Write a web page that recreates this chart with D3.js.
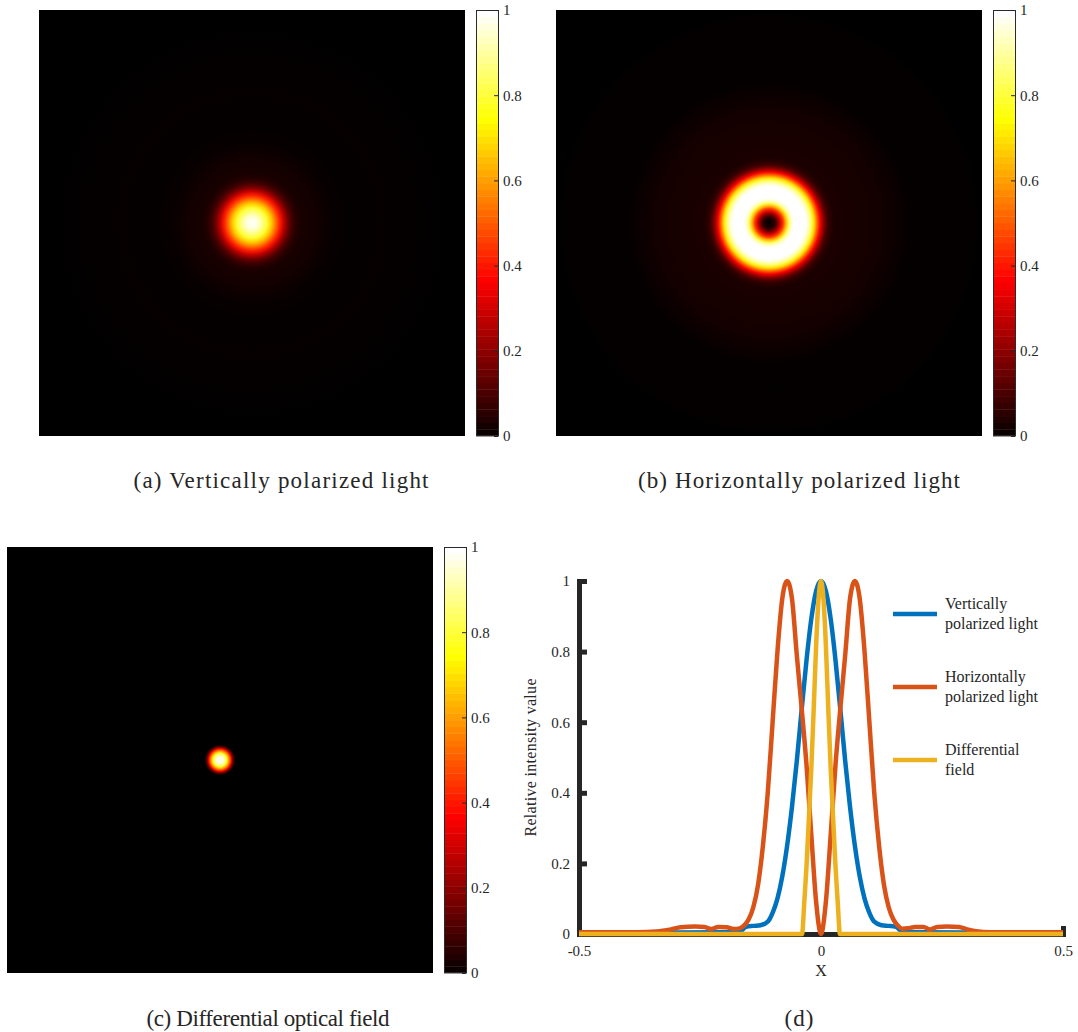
<!DOCTYPE html>
<meta charset="utf-8">
<title>Polarized light intensity</title>
<script src="https://cdn.jsdelivr.net/npm/d3@7"></script>
<style>
  body { margin: 0; background: #fff; }
  text { font-family: "Liberation Serif", "Times New Roman", serif; fill: #262626; }
</style>
<body>
<div id="fig"></div>
<script>

// radial profiles of the three intensity maps (radius as a fraction of map width)
var radiusA    = [0, 0.012, 0.023, 0.035, 0.045, 0.055, 0.065, 0.075, 0.085, 0.095, 0.106, 0.117, 0.141, 0.157, 0.188, 0.235, 0.305, 0.352, 0.411, 0.5]
var intensityA = [1, 0.97, 0.90, 0.80, 0.68, 0.55, 0.42, 0.28, 0.16, 0.09, 0.05, 0.035, 0.03, 0.025, 0.012, 0.006, 0.009, 0.007, 0.003, 0]

var radiusB    = [0, 0.012, 0.019, 0.026, 0.033, 0.040, 0.047, 0.054, 0.061, 0.085, 0.092, 0.099, 0.106, 0.113, 0.120, 0.127, 0.134, 0.141, 0.153, 0.200, 0.260, 0.300, 0.330, 0.387, 0.446, 0.481, 0.5]
var intensityB = [0, 0.05, 0.15, 0.30, 0.45, 0.65, 0.85, 0.97, 1, 1, 0.95, 0.85, 0.70, 0.52, 0.36, 0.22, 0.12, 0.07, 0.04, 0.035, 0.03, 0.018, 0.008, 0.004, 0.007, 0.004, 0]

var radiusC    = [0, 0.007, 0.012, 0.016, 0.021, 0.026, 0.029, 0.033, 0.036, 0.5]
var intensityC = [1, 0.97, 0.90, 0.78, 0.60, 0.40, 0.22, 0.08, 0, 0]

// line profiles of panel (d)
var xVert = [-0.5, -0.4, -0.3, -0.2, -0.18, -0.165, -0.155, -0.14, -0.125, -0.11, -0.1, -0.09, -0.08, -0.07, -0.06, -0.05, -0.04, -0.03, -0.02, -0.01, 0,
             0.01, 0.02, 0.03, 0.04, 0.05, 0.06, 0.07, 0.08, 0.09, 0.1, 0.11, 0.125, 0.14, 0.155, 0.165, 0.18, 0.2, 0.3, 0.4, 0.5]
var yVert = [0.003, 0.003, 0.004, 0.005, 0.006, 0.01, 0.02, 0.023, 0.025, 0.035, 0.06, 0.1, 0.163, 0.25, 0.36, 0.49, 0.635, 0.775, 0.893, 0.972, 1,
             0.972, 0.893, 0.775, 0.635, 0.49, 0.36, 0.25, 0.163, 0.1, 0.06, 0.035, 0.025, 0.023, 0.02, 0.01, 0.006, 0.005, 0.004, 0.003, 0.003]

var xHoriz = [-0.5, -0.38, -0.34, -0.31, -0.29, -0.26, -0.24, -0.228, -0.212, -0.195, -0.18, -0.168, -0.158, -0.15, -0.14, -0.13, -0.12, -0.11, -0.1, -0.09, -0.08, -0.07, -0.06, -0.05, -0.04, -0.03, -0.02, -0.01, 0,
              0.01, 0.02, 0.03, 0.04, 0.05, 0.06, 0.07, 0.08, 0.09, 0.1, 0.11, 0.12, 0.13, 0.14, 0.15, 0.158, 0.168, 0.18, 0.195, 0.212, 0.225, 0.24, 0.26, 0.285, 0.3, 0.32, 0.35, 0.5]
var yHoriz = [0.005, 0.005, 0.007, 0.013, 0.019, 0.021, 0.02, 0.014, 0.02, 0.019, 0.014, 0.016, 0.025, 0.04, 0.075, 0.14, 0.25, 0.4, 0.6, 0.8, 0.95, 1, 0.95, 0.79, 0.64, 0.48, 0.28, 0.09, 0,
              0.09, 0.28, 0.48, 0.64, 0.79, 0.95, 1, 0.95, 0.8, 0.6, 0.4, 0.25, 0.14, 0.075, 0.04, 0.025, 0.015, 0.016, 0.02, 0.02, 0.013, 0.02, 0.021, 0.02, 0.014, 0.008, 0.005, 0.005]

var xDiff = [-0.5, -0.039, -0.037, -0.035, -0.03, -0.025, -0.02, -0.015, -0.01, -0.005, 0, 0.005, 0.01, 0.015, 0.02, 0.025, 0.03, 0.035, 0.037, 0.039, 0.5]
var yDiff = [0, 0, 0.03, 0.08, 0.19, 0.33, 0.47, 0.64, 0.82, 0.95, 1, 0.95, 0.82, 0.64, 0.47, 0.33, 0.19, 0.08, 0.03, 0, 0]

var seriesLabels = [["Vertically", "polarized light"], ["Horizontally", "polarized light"], ["Differential", "field"]]
var seriesColors = ["#0072bd", "#d95319", "#edb120"]

var yTicks = [0, 0.2, 0.4, 0.6, 0.8, 1]
var yTickLabels = ["0", "0.2", "0.4", "0.6", "0.8", "1"]
var xTicks = [-0.5, 0, 0.5]
var xTickLabels = ["-0.5", "0", "0.5"]
var cbTicks = [0, 0.2, 0.4, 0.6, 0.8, 1]
var cbTickLabels = ["0", "0.2", "0.4", "0.6", "0.8", "1"]

var captions = ["(a) Vertically polarized light", "(b) Horizontally polarized light", "(c) Differential optical field", "(d)"]

var W = 1078, H = 1032
var axisColor = "#262626"

var svg = d3.select("#fig").append("svg")
    .attr("width", W)
    .attr("height", H)
    .style("display", "block")

svg.append("rect").attr("width", W).attr("height", H).attr("fill", "#fff")

var defs = svg.append("defs")

// matlab "hot" colormap
function hot(v) {
  v = Math.max(0, Math.min(1, v))
  var r = Math.min(1, v / 0.375),
      g = Math.max(0, Math.min(1, (v - 0.375) / 0.375)),
      b = Math.max(0, Math.min(1, (v - 0.75) / 0.25))
  return d3.rgb(r * 255, g * 255, b * 255).formatHex()
}

// ---- intensity maps with colorbars
var mapSize = 426
var maps = [
  {key: "a", left: 39, top: 10, radius: radiusA, value: intensityA},
  {key: "b", left: 556, top: 10, radius: radiusB, value: intensityB},
  {key: "c", left: 7, top: 547, radius: radiusC, value: intensityC}
]

maps.forEach(function(m) {
  var mx = d3.scaleLinear().domain([-0.5, 0.5]).range([m.left, m.left + mapSize])
  var my = d3.scaleLinear().domain([-0.5, 0.5]).range([m.top + mapSize, m.top])
  var offset = d3.scaleLinear().domain([0, 0.5]).range([0, 1])

  var grad = defs.append("radialGradient")
      .attr("id", "spot-" + m.key)
      .attr("gradientUnits", "userSpaceOnUse")
      .attr("cx", mx(0))
      .attr("cy", my(0))
      .attr("r", mx(0.5) - mx(0))

  grad.selectAll("stop")
    .data(m.radius)
    .enter()
    .append("stop")
      .attr("offset", function(d) { return offset(d) })
      .attr("stop-color", function(d, i) { return hot(m.value[i]) })

  svg.append("rect")
      .attr("x", m.left)
      .attr("y", m.top)
      .attr("width", mapSize)
      .attr("height", mapSize)
      .attr("fill", "url(#spot-" + m.key + ")")

  // colorbar, 64 levels like matlab
  var cbx = m.left + mapSize + 11, cbw = 23
  var cy = d3.scaleLinear().domain([0, 1]).range([m.top + mapSize, m.top])

  svg.append("g")
    .selectAll("rect")
    .data(d3.range(64))
    .enter()
    .append("rect")
      .attr("x", cbx)
      .attr("width", cbw)
      .attr("y", function(i) { return cy((i + 1) / 64) })
      .attr("height", function(i) { return cy(i / 64) - cy((i + 1) / 64) + 0.4 })
      .attr("fill", function(i) { return hot((i + 1) / 64) })

  svg.append("rect")
      .attr("x", cbx + 0.5)
      .attr("y", m.top + 0.5)
      .attr("width", cbw - 1)
      .attr("height", mapSize - 1)
      .attr("fill", "none")
      .attr("stroke", "#2a2a2a")
      .attr("stroke-width", 1)

  var cbAxis = svg.append("g")
      .attr("transform", "translate(" + (cbx + cbw - 1) + ",0)")
      .call(d3.axisRight(cy)
        .tickValues(cbTicks)
        .tickFormat(function(d, i) { return cbTickLabels[i] })
        .tickSizeInner(-4)
        .tickSizeOuter(0)
        .tickPadding(5))
  cbAxis.select(".domain").remove()
  cbAxis.selectAll("line").attr("stroke", axisColor)
  cbAxis.selectAll("text")
      .style("font-family", "'Liberation Serif', serif")
      .style("font-size", "15px")
      .attr("fill", axisColor)
})

// ---- panel (d) line profiles
var x = d3.scaleLinear().domain([-0.5, 0.5]).range([579, 1063])
var y = d3.scaleLinear().domain([0, 1]).range([934, 581])

var yAxis = svg.append("g")
    .attr("transform", "translate(" + x(-0.5) + ",0)")
    .call(d3.axisLeft(y)
      .tickValues(yTicks)
      .tickFormat(function(d, i) { return yTickLabels[i] })
      .tickSizeInner(-8)
      .tickSizeOuter(0)
      .tickPadding(9))

var xAxis = svg.append("g")
    .attr("transform", "translate(0," + y(0) + ")")
    .call(d3.axisBottom(x)
      .tickValues(xTicks)
      .tickFormat(function(d, i) { return xTickLabels[i] })
      .tickSizeInner(-8)
      .tickSizeOuter(0)
      .tickPadding(11))

;[xAxis, yAxis].forEach(function(a) {
  a.select(".domain").attr("stroke", axisColor).attr("stroke-width", 5).attr("stroke-linecap", "square")
  a.selectAll(".tick line").attr("stroke", axisColor).attr("stroke-width", 5)
  a.selectAll("text")
      .style("font-family", "'Liberation Serif', serif")
      .style("font-size", "15px")
      .attr("fill", axisColor)
})

svg.append("text")
    .attr("transform", "translate(536," + y(0.5) + ") rotate(-90)")
    .attr("text-anchor", "middle")
    .attr("textLength", 158)
    .attr("lengthAdjust", "spacing")
    .style("font-size", "16px")
    .text("Relative intensity value")

svg.append("text")
    .attr("x", x(0))
    .attr("y", 976)
    .attr("text-anchor", "middle")
    .style("font-size", "16px")
    .text("X")

var series = [
  {xs: xVert, ys: yVert},
  {xs: xHoriz, ys: yHoriz},
  {xs: xDiff, ys: yDiff}
]

var line = d3.line()
    .x(function(d) { return x(d[0]) })
    .y(function(d) { return y(d[1]) })
    .curve(d3.curveMonotoneX)

svg.append("g")
  .selectAll("path")
  .data(series)
  .enter()
  .append("path")
    .attr("d", function(s) { return line(d3.zip(s.xs, s.ys)) })
    .attr("fill", "none")
    .attr("stroke", function(s, i) { return seriesColors[i] })
    .attr("stroke-width", 4.5)
    .attr("stroke-linejoin", "round")

// legend
var legendY = [614, 687, 760]
var legend = svg.append("g")
  .selectAll("g")
  .data(seriesLabels)
  .enter()
  .append("g")
    .attr("transform", function(d, i) { return "translate(0," + legendY[i] + ")" })

legend.append("line")
    .attr("x1", 893)
    .attr("x2", 937)
    .attr("stroke", function(d, i) { return seriesColors[i] })
    .attr("stroke-width", 4.5)

legend.append("text")
    .attr("x", 945)
    .attr("y", -5)
    .style("font-size", "16px")
    .text(function(d) { return d[0] })

legend.append("text")
    .attr("x", 945)
    .attr("y", 15)
    .style("font-size", "16px")
    .text(function(d) { return d[1] })

// captions
var capPos = [[281, 488, 295], [799, 488, 322], [268, 1026, 243], [799, 1026, 29]]
svg.selectAll(".caption")
  .data(captions)
  .enter()
  .append("text")
    .attr("class", "caption")
    .attr("x", function(d, i) { return capPos[i][0] })
    .attr("y", function(d, i) { return capPos[i][1] })
    .attr("text-anchor", "middle")
    .attr("textLength", function(d, i) { return capPos[i][2] })
    .attr("lengthAdjust", "spacing")
    .style("font-size", "23px")
    .attr("fill", "#111")
    .text(function(d) { return d })

</script>
</body>
